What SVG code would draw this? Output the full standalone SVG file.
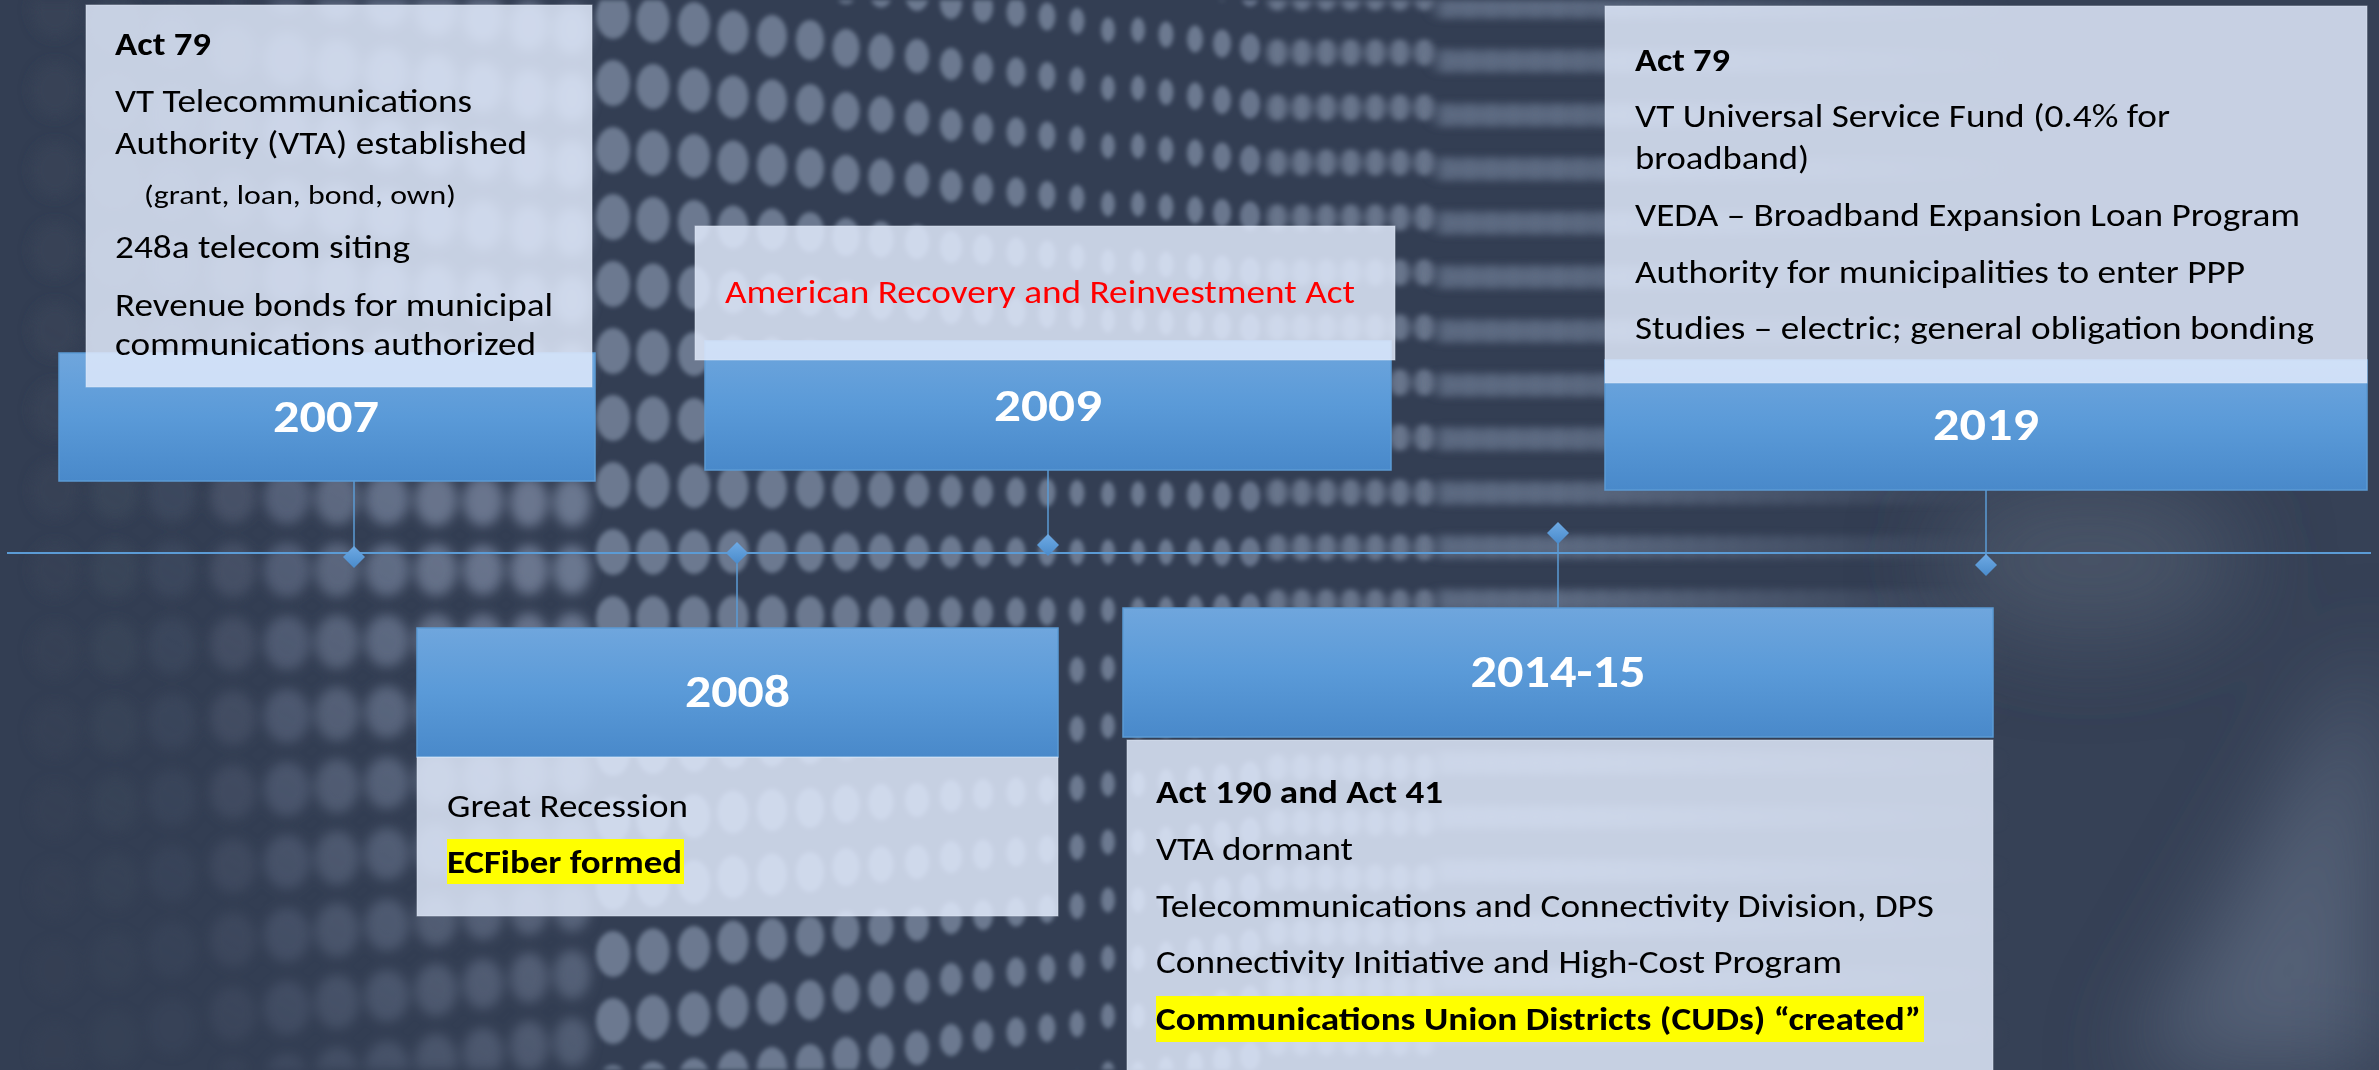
<svg xmlns="http://www.w3.org/2000/svg" xmlns:xlink="http://www.w3.org/1999/xlink" width="2379" height="1070" viewBox="0 0 2379 1070">
  <defs>
    <style>
      .txt { font-family: Carlito, Calibri, Lato, "Open Sans", sans-serif; font-size: 33px; fill: #000; }
      .b { font-weight: 700; }
      .sm { font-size: 26px; }
      .red { fill: #ff0000; }
      .year { font-family: Carlito, Calibri, Lato, "Open Sans", sans-serif; font-weight: 700; font-size: 46px; fill: #fff; text-anchor: middle; }
      .panel { fill: #e0eafc; fill-opacity: 0.85; stroke: #e4ecf8; stroke-opacity: 0.5; stroke-width: 1; }
      .band { fill: url(#bandGrad); stroke: #5b9bd5; stroke-width: 1.5; }
      .hl { fill: #ffff00; }
      .conn { stroke: #5b9bd5; stroke-width: 1.5; fill: none; }
      .axis { stroke: #5b9bd5; stroke-width: 2; fill: none; }
      .dia { fill: url(#diaGrad); }
    </style>

    <linearGradient id="bandGrad" x1="0" y1="0" x2="0" y2="1">
      <stop offset="0" stop-color="#6fa6dd"/>
      <stop offset="0.5" stop-color="#5a9ad8"/>
      <stop offset="1" stop-color="#4989ca"/>
    </linearGradient>
    <linearGradient id="diaGrad" x1="0" y1="0" x2="0" y2="1">
      <stop offset="0" stop-color="#6eaae4"/>
      <stop offset="1" stop-color="#4a8bcb"/>
    </linearGradient>
    <path id="dia" d="M0,-11 L11,0 L0,11 L-11,0 Z"/>

    <!-- blur for the LED-wall dots -->
    <filter id="blurBig" x="-10%" y="-5%" width="120%" height="110%"><feGaussianBlur stdDeviation="6"/></filter>
    <filter id="blurMid" x="-10%" y="-5%" width="120%" height="110%"><feGaussianBlur stdDeviation="2"/></filter>
    <filter id="blurSoft" x="-10%" y="-5%" width="120%" height="110%"><feGaussianBlur stdDeviation="3.5 2.5"/></filter>
    <filter id="blurStreak" x="-10%" y="-5%" width="120%" height="110%"><feGaussianBlur stdDeviation="8 3"/></filter>
    <filter id="haze" x="-50%" y="-50%" width="200%" height="200%"><feGaussianBlur stdDeviation="45"/></filter>

    <!-- left wall dims toward the lower left -->
    <linearGradient id="dimLeft" gradientUnits="userSpaceOnUse" x1="430" y1="520" x2="180" y2="1000">
      <stop offset="0" stop-color="#fff"/>
      <stop offset="1" stop-color="#5a5a5a"/>
    </linearGradient>
    <mask id="leftMask" maskUnits="userSpaceOnUse" x="0" y="0" width="640" height="1070">
      <rect x="0" y="0" width="640" height="1070" fill="url(#dimLeft)"/>
    </mask>

    <!-- right wall fades out -->
    <linearGradient id="fadeGrad" gradientUnits="userSpaceOnUse" x1="1560" y1="0" x2="2010" y2="0">
      <stop offset="0" stop-color="#fff"/>
      <stop offset="1" stop-color="#000"/>
    </linearGradient>
    <mask id="fadeRight" maskUnits="userSpaceOnUse" x="1200" y="0" width="900" height="1070">
      <rect x="1200" y="0" width="900" height="1070" fill="url(#fadeGrad)"/>
    </mask>

    <!-- dot columns, far left (large, soft) -->
    <pattern id="a1" patternUnits="userSpaceOnUse" x="27" y="530" width="56" height="80"><ellipse cx="28" cy="40" rx="24" ry="28" fill="#394357"/></pattern>
    <pattern id="a2" patternUnits="userSpaceOnUse" x="87" y="531" width="56" height="78"><ellipse cx="28" cy="39" rx="24" ry="28" fill="#3b465a"/></pattern>
    <pattern id="a3" patternUnits="userSpaceOnUse" x="144" y="532" width="56" height="76"><ellipse cx="28" cy="38" rx="24" ry="28" fill="#3e495e"/></pattern>
    <pattern id="a4" patternUnits="userSpaceOnUse" x="206" y="533" width="54" height="74"><ellipse cx="27" cy="37" rx="23" ry="27" fill="#485369"/></pattern>
    <pattern id="a5" patternUnits="userSpaceOnUse" x="260" y="533.5" width="54" height="73"><ellipse cx="27" cy="36.5" rx="23" ry="27" fill="#56627a"/></pattern>
    <pattern id="a6" patternUnits="userSpaceOnUse" x="311" y="534" width="52" height="72"><ellipse cx="26" cy="36" rx="22" ry="27" fill="#5f6b82"/></pattern>
    <pattern id="a7" patternUnits="userSpaceOnUse" x="361" y="534.5" width="52" height="71"><ellipse cx="26" cy="35.5" rx="22" ry="26" fill="#647088"/></pattern>
    <pattern id="a8" patternUnits="userSpaceOnUse" x="411" y="535" width="50" height="70"><ellipse cx="25" cy="35" rx="21" ry="26" fill="#67738b"/></pattern>
    <pattern id="a9" patternUnits="userSpaceOnUse" x="459" y="535.5" width="48" height="69"><ellipse cx="24" cy="34.5" rx="20" ry="25" fill="#69758d"/></pattern>
    <pattern id="a10" patternUnits="userSpaceOnUse" x="506" y="536" width="46" height="68"><ellipse cx="23" cy="34" rx="19" ry="25" fill="#6a768e"/></pattern>
    <pattern id="a11" patternUnits="userSpaceOnUse" x="550" y="536" width="44" height="67.5"><ellipse cx="22" cy="33.75" rx="18.5" ry="24.5" fill="#6b778f"/></pattern>

    <!-- dot columns, centre (small, sharp) -->
    <pattern id="b1" patternUnits="userSpaceOnUse" x="592" y="518.5" width="42" height="67"><ellipse cx="21" cy="33.5" rx="17" ry="23" fill="#6c7990"/></pattern>
    <pattern id="b2" patternUnits="userSpaceOnUse" x="633" y="518.75" width="40" height="66.5"><ellipse cx="20" cy="33.25" rx="16.5" ry="22.5" fill="#6c7990"/></pattern>
    <pattern id="b3" patternUnits="userSpaceOnUse" x="674" y="519" width="40" height="66"><ellipse cx="20" cy="33" rx="16" ry="22" fill="#6c7990"/></pattern>
    <pattern id="b4" patternUnits="userSpaceOnUse" x="714" y="519.5" width="38" height="65"><ellipse cx="19" cy="32.5" rx="15.5" ry="21.5" fill="#6c7990"/></pattern>
    <pattern id="b5" patternUnits="userSpaceOnUse" x="753" y="519.75" width="38" height="64.5"><ellipse cx="19" cy="32.25" rx="15" ry="21" fill="#6c7990"/></pattern>
    <pattern id="b6" patternUnits="userSpaceOnUse" x="792" y="520" width="36" height="64"><ellipse cx="18" cy="32" rx="14" ry="20" fill="#6c7990"/></pattern>
    <pattern id="b7" patternUnits="userSpaceOnUse" x="829" y="520.5" width="34" height="63"><ellipse cx="17" cy="31.5" rx="13.5" ry="19" fill="#6c7990"/></pattern>
    <pattern id="b8" patternUnits="userSpaceOnUse" x="865" y="520.75" width="32" height="62.5"><ellipse cx="16" cy="31.25" rx="12.5" ry="18" fill="#6c7990"/></pattern>
    <pattern id="b9" patternUnits="userSpaceOnUse" x="902" y="521" width="30" height="62"><ellipse cx="15" cy="31" rx="12" ry="17" fill="#6c7990"/></pattern>
    <pattern id="b10" patternUnits="userSpaceOnUse" x="937" y="521.5" width="28" height="61"><ellipse cx="14" cy="30.5" rx="11" ry="16" fill="#6c7990"/></pattern>
    <pattern id="b11" patternUnits="userSpaceOnUse" x="970" y="521.75" width="26" height="60.5"><ellipse cx="13" cy="30.25" rx="10" ry="15" fill="#6c7990"/></pattern>
    <pattern id="b12" patternUnits="userSpaceOnUse" x="1003" y="522" width="26" height="60"><ellipse cx="13" cy="30" rx="9.5" ry="14.5" fill="#6c7990"/></pattern>
    <pattern id="b13" patternUnits="userSpaceOnUse" x="1035" y="522.25" width="24" height="59.5"><ellipse cx="12" cy="29.75" rx="8.5" ry="14" fill="#6c7990"/></pattern>
    <pattern id="b14" patternUnits="userSpaceOnUse" x="1066" y="522.5" width="22" height="59"><ellipse cx="11" cy="29.5" rx="7.5" ry="13" fill="#6c7990"/></pattern>
    <pattern id="b15" patternUnits="userSpaceOnUse" x="1097" y="523" width="22" height="58"><ellipse cx="11" cy="29" rx="7" ry="12.5" fill="#6c7990"/></pattern>
    <pattern id="b16" patternUnits="userSpaceOnUse" x="1127" y="523" width="22" height="58"><ellipse cx="11" cy="29" rx="7" ry="12.5" fill="#6c7990"/></pattern>
    <pattern id="b17" patternUnits="userSpaceOnUse" x="1155" y="523.25" width="22" height="57.5"><ellipse cx="11" cy="28.75" rx="7.5" ry="13" fill="#6c7990"/></pattern>
    <pattern id="b18" patternUnits="userSpaceOnUse" x="1183" y="523.5" width="24" height="57"><ellipse cx="12" cy="28.5" rx="8" ry="13.5" fill="#6c7990"/></pattern>
    <pattern id="b19" patternUnits="userSpaceOnUse" x="1209" y="523.75" width="26" height="56.5"><ellipse cx="13" cy="28.25" rx="9" ry="14" fill="#6a778e"/></pattern>
    <pattern id="b20" patternUnits="userSpaceOnUse" x="1237" y="524" width="26" height="56"><ellipse cx="13" cy="28" rx="10" ry="14.5" fill="#68758c"/></pattern>

    <!-- dot rows, right (softening into streaks) -->
    <pattern id="c1" patternUnits="userSpaceOnUse" x="1265" y="520" width="24.5" height="55"><ellipse cx="12.25" cy="27.5" rx="10" ry="13.5" fill="#67748b"/></pattern>
    <pattern id="c2" patternUnits="userSpaceOnUse" x="1436.5" y="520" width="22" height="54"><ellipse cx="11" cy="27" rx="10" ry="13.5" fill="#627087"/></pattern>
  </defs>

  <!-- backdrop: dark LED wall -->
  <g id="backdrop">
    <rect x="0" y="0" width="2379" height="1070" fill="#333e53"/>
    <rect x="1990" y="0" width="389" height="1070" fill="#364156"/>
    <g mask="url(#leftMask)">
      <g filter="url(#blurBig)">
        <rect x="27" y="0" width="56" height="1070" fill="url(#a1)"/>
        <rect x="87" y="0" width="56" height="1070" fill="url(#a2)"/>
        <rect x="144" y="0" width="56" height="1070" fill="url(#a3)"/>
        <rect x="206" y="0" width="54" height="1070" fill="url(#a4)"/>
        <rect x="260" y="0" width="54" height="1070" fill="url(#a5)"/>
        <rect x="311" y="0" width="52" height="1070" fill="url(#a6)"/>
        <rect x="361" y="0" width="52" height="1070" fill="url(#a7)"/>
        <rect x="411" y="0" width="50" height="1070" fill="url(#a8)"/>
        <rect x="459" y="0" width="48" height="1070" fill="url(#a9)"/>
        <rect x="506" y="0" width="46" height="1070" fill="url(#a10)"/>
        <rect x="550" y="0" width="44" height="1070" fill="url(#a11)"/>
      </g>
    </g>
    <g filter="url(#blurMid)">
      <rect x="592" y="0" width="42" height="1070" fill="url(#b1)"/>
      <rect x="633" y="0" width="40" height="1070" fill="url(#b2)"/>
      <rect x="674" y="0" width="40" height="1070" fill="url(#b3)"/>
      <rect x="714" y="0" width="38" height="1070" fill="url(#b4)"/>
      <rect x="753" y="0" width="38" height="1070" fill="url(#b5)"/>
      <rect x="792" y="0" width="36" height="1070" fill="url(#b6)"/>
      <rect x="829" y="0" width="34" height="1070" fill="url(#b7)"/>
      <rect x="865" y="0" width="32" height="1070" fill="url(#b8)"/>
      <rect x="902" y="0" width="30" height="1070" fill="url(#b9)"/>
      <rect x="937" y="0" width="28" height="1070" fill="url(#b10)"/>
      <rect x="970" y="0" width="26" height="1070" fill="url(#b11)"/>
      <rect x="1003" y="0" width="26" height="1070" fill="url(#b12)"/>
      <rect x="1035" y="0" width="24" height="1070" fill="url(#b13)"/>
      <rect x="1066" y="0" width="22" height="1070" fill="url(#b14)"/>
      <rect x="1097" y="0" width="22" height="1070" fill="url(#b15)"/>
      <rect x="1127" y="0" width="22" height="1070" fill="url(#b16)"/>
      <rect x="1155" y="0" width="22" height="1070" fill="url(#b17)"/>
      <rect x="1183" y="0" width="24" height="1070" fill="url(#b18)"/>
      <rect x="1209" y="0" width="26" height="1070" fill="url(#b19)"/>
      <rect x="1237" y="0" width="26" height="1070" fill="url(#b20)"/>
    </g>
    <g filter="url(#blurSoft)">
      <rect x="1265" y="0" width="171.5" height="1070" fill="url(#c1)"/>
    </g>
    <g mask="url(#fadeRight)">
      <g filter="url(#blurStreak)">
        <rect x="1436.5" y="0" width="594" height="1070" fill="url(#c2)"/>
      </g>
    </g>
    <g filter="url(#haze)">
      <ellipse cx="2090" cy="560" rx="150" ry="80" fill="#4c576c" opacity="0.8"/>
      <path d="M2379,640 L2379,1070 L2130,1070 Z" fill="#5a667c" opacity="0.85"/>
    </g>
  </g>

  <!-- timeline axis, stems and markers -->
  <g id="connectors">
    <line class="axis" x1="7" y1="553" x2="2371" y2="553"/>
    <line class="conn" x1="354" y1="481" x2="354" y2="548"/>
    <line class="conn" x1="737" y1="553" x2="737" y2="628"/>
    <line class="conn" x1="1048" y1="470" x2="1048" y2="536"/>
    <line class="conn" x1="1558" y1="540" x2="1558" y2="608"/>
    <line class="conn" x1="1986" y1="490" x2="1986" y2="556"/>
    <use href="#dia" class="dia" x="354" y="557"/>
    <use href="#dia" class="dia" x="737" y="553"/>
    <use href="#dia" class="dia" x="1048" y="545"/>
    <use href="#dia" class="dia" x="1558" y="533"/>
    <use href="#dia" class="dia" x="1986" y="565"/>
  </g>

  <g id="node-2007">
    <rect class="band" x="59" y="353" width="536" height="128"/>
    <rect class="panel" x="86" y="5" width="506" height="382"/>
    <text class="txt b" x="115" y="55" textLength="96" lengthAdjust="spacingAndGlyphs">Act 79</text>
    <text class="txt" x="115" y="112" textLength="357" lengthAdjust="spacingAndGlyphs">VT Telecommunications</text>
    <text class="txt" x="115" y="154" textLength="412" lengthAdjust="spacingAndGlyphs">Authority (VTA) established</text>
    <text class="txt sm" x="144" y="204" textLength="312" lengthAdjust="spacingAndGlyphs">(grant, loan, bond, own)</text>
    <text class="txt" x="115" y="258" textLength="295" lengthAdjust="spacingAndGlyphs">248a telecom siting</text>
    <text class="txt" x="115" y="316" textLength="438" lengthAdjust="spacingAndGlyphs">Revenue bonds for municipal</text>
    <text class="txt" x="115" y="355" textLength="421" lengthAdjust="spacingAndGlyphs">communications authorized</text>
    <text class="year" x="326" y="432" textLength="106" lengthAdjust="spacingAndGlyphs">2007</text>
  </g>

  <g id="node-2009">
    <rect class="band" x="705" y="341" width="686" height="129"/>
    <rect class="panel" x="695" y="226" width="700" height="134"/>
    <text class="txt red" x="725" y="303" textLength="630" lengthAdjust="spacingAndGlyphs">American Recovery and Reinvestment Act</text>
    <text class="year" x="1048" y="421" textLength="108" lengthAdjust="spacingAndGlyphs">2009</text>
  </g>

  <g id="node-2019">
    <rect class="band" x="1605" y="360" width="762" height="130"/>
    <rect class="panel" x="1605" y="6" width="762" height="377"/>
    <text class="txt b" x="1635" y="71" textLength="95" lengthAdjust="spacingAndGlyphs">Act 79</text>
    <text class="txt" x="1635" y="127" textLength="535" lengthAdjust="spacingAndGlyphs">VT Universal Service Fund (0.4% for</text>
    <text class="txt" x="1635" y="169" textLength="174" lengthAdjust="spacingAndGlyphs">broadband)</text>
    <text class="txt" x="1635" y="226" textLength="665" lengthAdjust="spacingAndGlyphs">VEDA – Broadband Expansion Loan Program</text>
    <text class="txt" x="1635" y="283" textLength="610" lengthAdjust="spacingAndGlyphs">Authority for municipalities to enter PPP</text>
    <text class="txt" x="1635" y="339" textLength="679" lengthAdjust="spacingAndGlyphs">Studies – electric; general obligation bonding</text>
    <text class="year" x="1986" y="440" textLength="106" lengthAdjust="spacingAndGlyphs">2019</text>
  </g>

  <g id="node-2008">
    <rect class="band" x="417" y="628" width="641" height="129"/>
    <rect class="panel" x="417" y="757" width="641" height="159"/>
    <text class="year" x="737.5" y="707" textLength="105" lengthAdjust="spacingAndGlyphs">2008</text>
    <text class="txt" x="447" y="817" textLength="241" lengthAdjust="spacingAndGlyphs">Great Recession</text>
    <rect class="hl" x="447" y="839" width="237" height="45"/>
    <text class="txt b" x="447" y="873" textLength="235" lengthAdjust="spacingAndGlyphs">ECFiber formed</text>
  </g>

  <g id="node-2014-15">
    <rect class="band" x="1123" y="608" width="870" height="129"/>
    <rect class="panel" x="1127" y="740" width="866" height="340"/>
    <text class="year" x="1558" y="687" textLength="175" lengthAdjust="spacingAndGlyphs">2014-15</text>
    <text class="txt b" x="1156" y="803" textLength="287" lengthAdjust="spacingAndGlyphs">Act 190 and Act 41</text>
    <text class="txt" x="1156" y="860" textLength="197" lengthAdjust="spacingAndGlyphs">VTA dormant</text>
    <text class="txt" x="1156" y="917" textLength="778" lengthAdjust="spacingAndGlyphs">Telecommunications and Connectivity Division, DPS</text>
    <text class="txt" x="1156" y="973" textLength="686" lengthAdjust="spacingAndGlyphs">Connectivity Initiative and High-Cost Program</text>
    <rect class="hl" x="1156" y="996" width="768" height="46"/>
    <text class="txt b" x="1156" y="1030" textLength="765" lengthAdjust="spacingAndGlyphs">Communications Union Districts (CUDs) “created”</text>
  </g>
</svg>
